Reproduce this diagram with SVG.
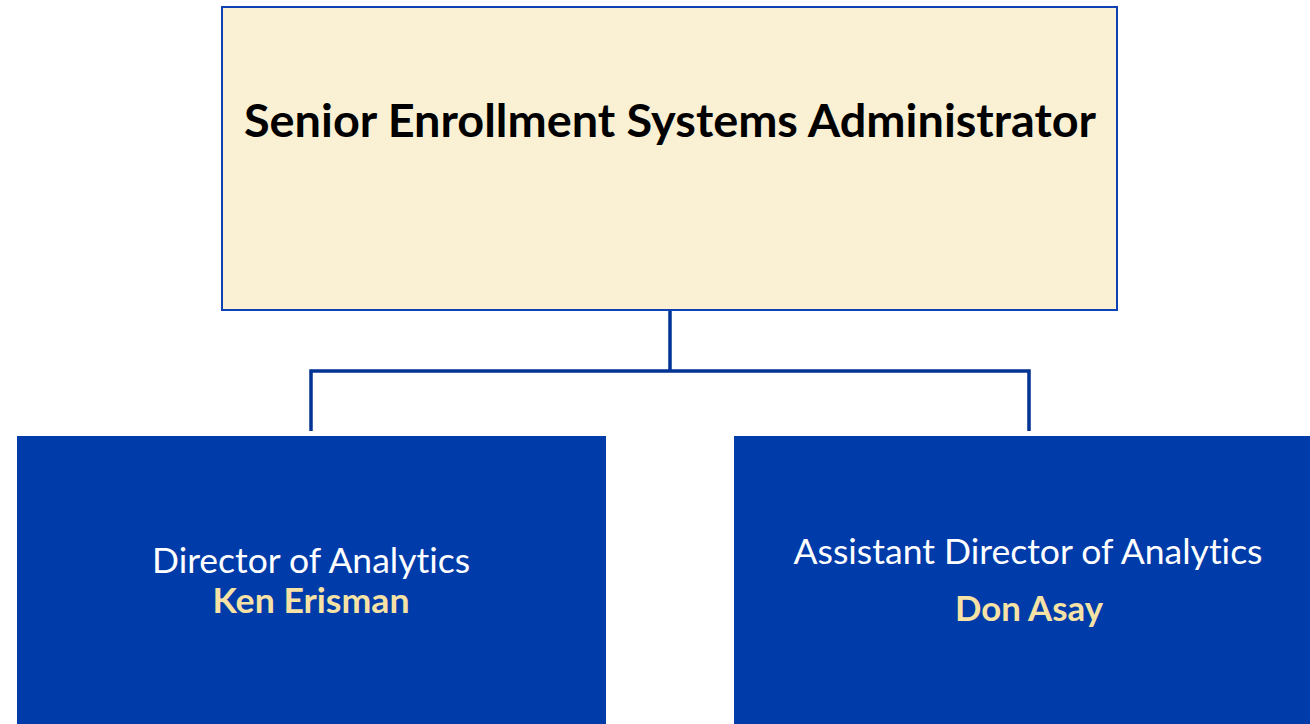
<svg xmlns="http://www.w3.org/2000/svg" width="1310" height="724" viewBox="0 0 1310 724">
<style>
.t{font-family:Lato,"Open Sans","Liberation Sans",sans-serif;text-anchor:middle;font-variant-ligatures:none;font-feature-settings:"liga" 0,"clig" 0}
.title{font-size:45px;font-weight:bold;fill:#000}
.role{font-size:35px;fill:#fff}
.name{font-size:34px;font-weight:bold;fill:#F7E2A6}
.child{fill:#003BAA}
.conn{fill:none;stroke:#003393;stroke-width:3.5}
</style>
<rect width="1310" height="724" fill="#fff"/>
<g id="connectors">
<path class="conn" d="M670 311 V371"/>
<path class="conn" d="M311 431 V371 H1029 V431"/>
</g>
<g id="node-admin">
<rect x="222" y="7" width="895" height="303" fill="#FAF1D4" stroke="#0F42B5" stroke-width="2"/>
<text class="t title" x="670" y="137" textLength="852" lengthAdjust="spacingAndGlyphs">Senior Enrollment Systems Administrator</text>
</g>
<g id="node-director">
<rect class="child" x="17" y="436" width="589" height="288"/>
<text class="t role" x="311" y="573" textLength="318" lengthAdjust="spacingAndGlyphs">Director of Analytics</text>
<text class="t name" x="311" y="613" textLength="197" lengthAdjust="spacingAndGlyphs">Ken Erisman</text>
</g>
<g id="node-assistant">
<rect class="child" x="734" y="436" width="576" height="288"/>
<text class="t role" x="1028" y="564" textLength="469" lengthAdjust="spacingAndGlyphs">Assistant Director of Analytics</text>
<text class="t name" x="1029" y="621" textLength="148" lengthAdjust="spacingAndGlyphs">Don Asay</text>
</g>
</svg>
